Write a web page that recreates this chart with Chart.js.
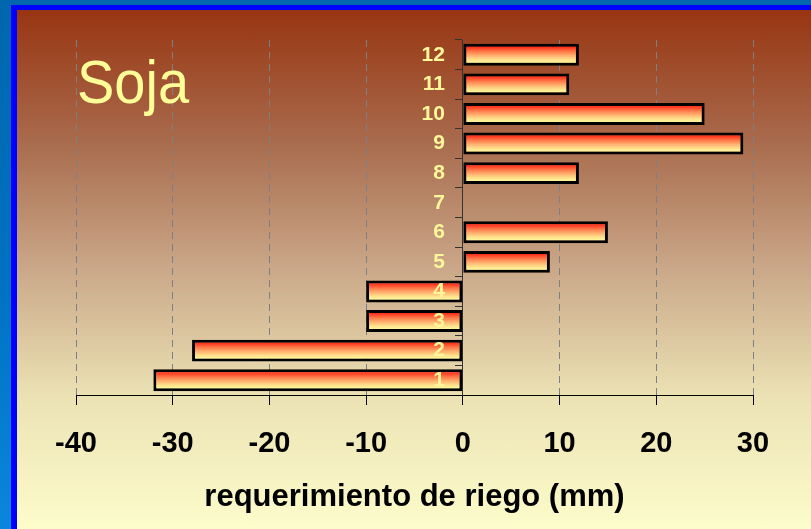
<!DOCTYPE html>
<html>
<head>
<meta charset="utf-8">
<title>Soja - requerimiento de riego</title>
<script src="https://cdn.jsdelivr.net/npm/chart.js@4.4.1/dist/chart.umd.min.js"></script>
<style>
  html, body { margin: 0; padding: 0; }
  body {
    width: 811px; height: 529px; overflow: hidden; position: relative;
    background: linear-gradient(180deg, #0066ae 0%, #0072c2 55%, #0a86dc 100%);
    font-family: "Liberation Sans", Arial, sans-serif;
  }
  #panel {
    position: absolute; left: 11px; top: 5px;
    width: 820px; height: 519px;
    border-style: solid; border-color: #0000ff;
    border-width: 5px 0 0 6px;
    background: linear-gradient(180deg, #983511 0%, #a86a4c 25%, #caa889 50%, #ece3b5 75%, #fdfccb 100%);
  }
  #wrap { position: absolute; left: 0; top: 0; width: 811px; height: 529px; }
  #cultivo {
    position: absolute; left: 77px; top: 57px;
    font-size: 56px; line-height: 56px; color: #ffff99;
    transform: scaleY(1.1); transform-origin: 0 100%;
  }
</style>
</head>
<body>
<div id="panel"></div>
<div id="wrap"><canvas id="riego"></canvas></div>
<div id="cultivo">Soja</div>
<script>
// meses / decenas en el eje vertical, de abajo hacia arriba
const categorias = ['1', '2', '3', '4', '5', '6', '7', '8', '9', '10', '11', '12'];
// requerimiento de riego (mm)
const requerimiento = [-32, -28, -10, -10, 9, 15, 0, 12, 29, 25, 11, 12];
const marcasX = [-40, -30, -20, -10, 0, 10, 20, 30];

const ANCHO_BARRA = 0.74;
const BORDE = 3;
// separación de las etiquetas del eje vertical respecto de la línea del 0
const SEP_ETIQUETAS = 18;

Chart.defaults.font.family = "'Liberation Sans', Arial, sans-serif";

// degradado rojo -> amarillo dentro de cada barra
function rellenoBarra(context) {
    const chart = context.chart;
    const y = chart.scales.y;
    if (!y || context.dataIndex === undefined) {
        return '#ffb060';
    }
    const centro = y.getPixelForValue(context.dataIndex);
    const medio = Math.abs(y.getPixelForValue(1) - y.getPixelForValue(0)) * ANCHO_BARRA / 2 - BORDE;
    if (!isFinite(centro) || !isFinite(medio) || medio <= 0) {
        return '#ffb060';
    }
    const g = chart.ctx.createLinearGradient(0, centro - medio, 0, centro + medio);
    g.addColorStop(0, '#ff2a1a');
    g.addColorStop(0.3, '#ff7a48');
    g.addColorStop(0.55, '#ffb070');
    g.addColorStop(0.8, '#ffe08a');
    g.addColorStop(1, '#fff79c');
    return g;
}

// el eje vertical va sobre x = 0: correr las etiquetas a la izquierda de las marcas
function correrEtiquetas(scale) {
    if (scale._etiquetasCorridas || typeof scale._computeLabelItems !== 'function') {
        return;
    }
    const original = scale._computeLabelItems;
    scale._computeLabelItems = function (area) {
        const items = original.call(this, area);
        items.forEach(it => { it.options.translation[0] -= SEP_ETIQUETAS; });
        return items;
    };
    scale._etiquetasCorridas = true;
}

const data = {
    labels: categorias,
    datasets: [{
        data: requerimiento,
        backgroundColor: rellenoBarra,
        borderColor: '#000000',
        borderWidth: BORDE,
        borderSkipped: false,
        categoryPercentage: 1,
        barPercentage: ANCHO_BARRA
    }]
};

const config = {
    type: 'bar',
    data: data,
    options: {
        indexAxis: 'y',
        responsive: true,
        maintainAspectRatio: false,
        animation: false,
        layout: { padding: { top: 40, left: 76, right: 58, bottom: 9 } },
        plugins: {
            legend: { display: false },
            tooltip: { enabled: false }
        },
        scales: {
            x: {
                type: 'linear',
                min: marcasX[0],
                max: marcasX[marcasX.length - 1],
                afterBuildTicks: (scale) => {
                    scale.ticks = marcasX.map(v => ({ value: v }));
                },
                ticks: {
                    color: '#000000',
                    padding: 22,
                    font: { size: 29, weight: 'bold' }
                },
                grid: {
                    color: (ctx) => (ctx.tick && ctx.tick.value === 0) ? 'rgba(0,0,0,0)' : '#7c7f86',
                    lineWidth: 1,
                    tickColor: '#000000',
                    tickLength: 10,
                    tickBorderDash: []
                },
                border: { display: true, color: '#000000', width: 1, dash: [7, 5] },
                title: {
                    display: true,
                    text: 'requerimiento de riego (mm)',
                    color: '#000000',
                    font: { size: 31, weight: 'bold' },
                    padding: { top: -5, bottom: 4 }
                }
            },
            y: {
                type: 'category',
                position: { x: 0 },
                reverse: true,
                afterUpdate: correrEtiquetas,
                ticks: {
                    color: '#fff799',
                    autoSkip: false,
                    z: 1,
                    font: { size: 21, weight: 'bold' }
                },
                grid: {
                    drawOnChartArea: false,
                    offset: true,
                    tickLength: 7,
                    tickColor: '#333333'
                },
                border: { display: true, color: '#333333', width: 1 }
            }
        }
    }
};

new Chart(document.getElementById('riego'), config);
</script>
</body>
</html>
